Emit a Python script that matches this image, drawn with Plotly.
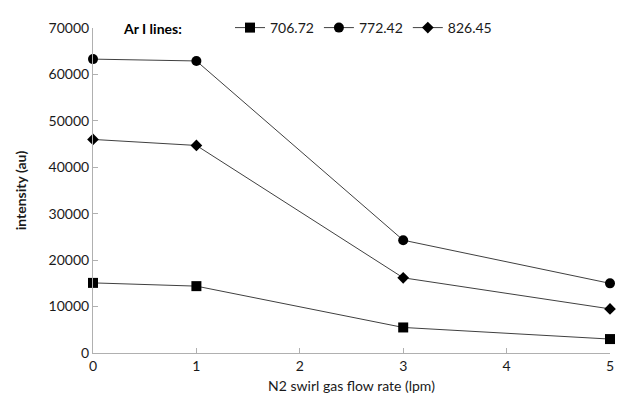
import plotly.graph_objects as go

x_flow = [0, 1, 3, 5]
s706 = [15100, 14400, 5500, 3000]
s772 = [63300, 62900, 24300, 15000]
s826 = [46000, 44700, 16200, 9500]
names = ["706.72", "772.42", "826.45"]
symbols = ["square", "circle", "diamond"]
sizes = [10, 10, 9]

FONT = "Lato"
fig = go.Figure()
for name, vals, sym, sz in zip(names, [s706, s772, s826], symbols, sizes):
    fig.add_trace(go.Scatter(
        x=x_flow, y=vals, name=name, mode="lines+markers",
        line=dict(color="#404040", width=1),
        marker=dict(symbol=sym, size=sz, color="black"),
    ))

fig.add_annotation(text="<b>Ar I lines:</b>", xref="paper", yref="paper",
                   x=0.055, y=1.0, xanchor="left", yanchor="middle",
                   showarrow=False, font=dict(family=FONT, size=14, color="black"))

fig.update_layout(
    width=626, height=412,
    margin=dict(l=93, r=12, t=15, b=59),
    paper_bgcolor="white", plot_bgcolor="white",
    font=dict(family=FONT, size=14, color="#1a1a1a"),
    showlegend=True,
    legend=dict(orientation="h", x=0.265, y=1.0, xanchor="left", yanchor="middle",
                font=dict(family=FONT, size=14), bgcolor="rgba(0,0,0,0)",
                itemwidth=30, tracegroupgap=0),
    xaxis=dict(range=[0, 5], tickvals=[0, 1, 2, 3, 4, 5], showgrid=False, zeroline=False,
               showline=True, linecolor="#b0b0b0", linewidth=1, ticks="inside",
               tickcolor="#b0b0b0", ticklen=5,
               title=dict(text="N2 swirl gas flow rate (lpm)", font=dict(size=14), standoff=8)),
    yaxis=dict(range=[0, 70000], tickvals=list(range(0, 70001, 10000)), tickformat="d",
               showgrid=False, zeroline=False, showline=True, linecolor="#b0b0b0",
               linewidth=1, ticks="inside", tickcolor="#b0b0b0", ticklen=5,
               title=dict(text="<b>intensity (au)</b>", font=dict(size=14), standoff=18)),
)
fig.update_traces(cliponaxis=False)
fig.write_html("out.html")
